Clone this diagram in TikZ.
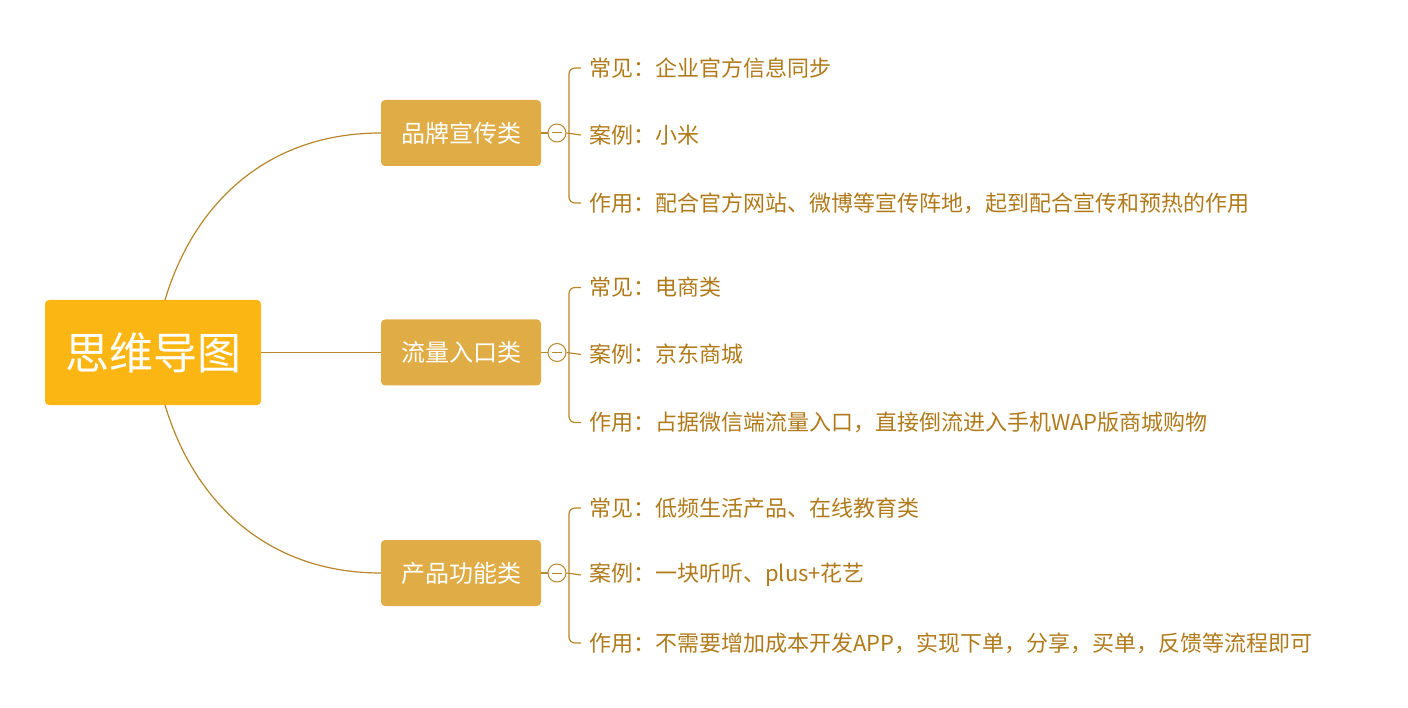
\documentclass[tikz,border=0pt]{standalone}
\usepackage{fontspec}
\newfontfamily\cjk{Noto Sans CJK SC}
\definecolor{rootc}{HTML}{FBB614}
\definecolor{brc}{HTML}{E0AC45}
\definecolor{linec}{HTML}{B8862A}
\definecolor{txtc}{HTML}{B07A1A}
\begin{document}
\begin{tikzpicture}[x=1pt,y=-1pt,
  rootbox/.style={fill=rootc,rounded corners=4pt,minimum width=216pt,minimum height=105pt,text=white,font=\cjk\fontsize{44}{48}\selectfont},
  brbox/.style={fill=brc,rounded corners=4pt,minimum width=160pt,minimum height=66pt,text=white,font=\cjk\fontsize{24}{28}\selectfont},
  leaf/.style={anchor=west,text=txtc,font=\cjk\fontsize{22}{26}\selectfont,inner sep=0pt},
  conn/.style={draw=linec,line width=1.2pt},
  fold/.style={circle,draw=linec,line width=1pt,minimum size=18pt,inner sep=0pt,fill=white}]
\useasboundingbox (0,0) rectangle (1408,708);
\node[rootbox] (root) at (153,352.5) {思维导图};
\coordinate (rt) at (165,300);
\coordinate (rb) at (165,405);
\foreach \i/\y/\name/\a/\b/\c in {
 1/133/品牌宣传类/常见：企业官方信息同步/案例：小米/作用：配合官方网站、微博等宣传阵地，起到配合宣传和预热的作用,
 2/352.5/流量入口类/常见：电商类/案例：京东商城/作用：占据微信端流量入口，直接倒流进入手机WAP版商城购物,
 3/573/产品功能类/常见：低频生活产品、在线教育类/案例：一块听听、plus+花艺/作用：不需要增加成本开发APP，实现下单，分享，买单，反馈等流程即可}{
  \node[brbox] (b\i) at (461,\y) {\name};
  \node[fold] (f\i) at (557,\y) {};
  \draw[linec,line width=1pt] ([xshift=-5pt]f\i.center) -- ([xshift=5pt]f\i.center);
  \draw[conn] (b\i.east) -- (f\i.west);
  \node[leaf] (l\i a) at (589,\y-65) {\a};
  \node[leaf] (l\i b) at (589,\y+2) {\b};
  \node[leaf] (l\i c) at (589,\y+70) {\c};
  \coordinate (s\i) at (569,\y);
  \draw[conn,rounded corners=6pt] (l\i a.west) ++(-8,0) -| (s\i) |- ([xshift=-8pt]l\i c.west);
  \draw[conn] (f\i.east) -- ([xshift=-8pt]l\i b.west);
}
\draw[conn] (rt) .. controls (195,200) and (270,133) .. (b1.west);
\draw[conn] (root.east) -- (b2.west);
\draw[conn] (rb) .. controls (195,505) and (270,573) .. (b3.west);
\end{tikzpicture}
\end{document}
